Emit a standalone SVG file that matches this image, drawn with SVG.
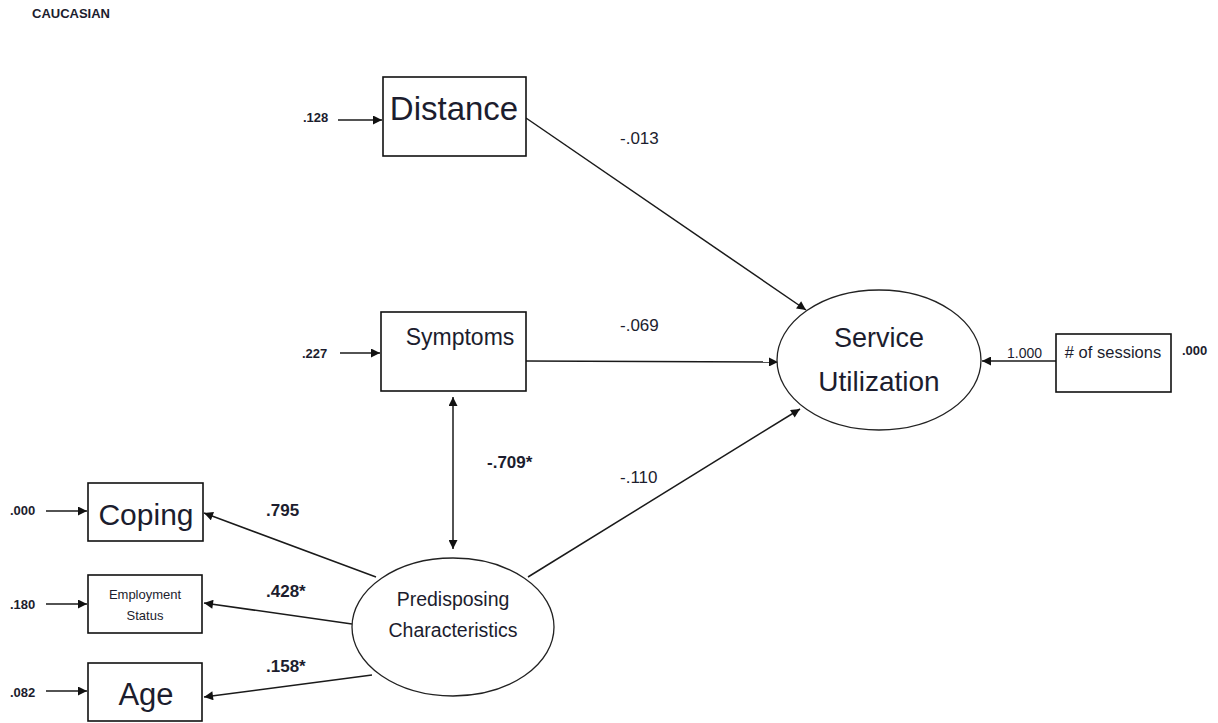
<svg xmlns="http://www.w3.org/2000/svg" width="1218" height="723" viewBox="0 0 1218 723">
<style>
  text { font-family: "Liberation Sans", Arial, sans-serif; fill: #1c1d2e; }
  .box { fill: #ffffff; stroke: #111111; stroke-width: 1.6; }
  .ell { fill: #ffffff; stroke: #222222; stroke-width: 1.3; }
  .edge { fill: none; stroke: #1a1a1a; stroke-width: 1.5; }
  .err { fill: none; stroke: #1a1a1a; stroke-width: 1.5; marker-end: url(#arr); }
  .num { font-size: 13px; font-weight: bold; }
  .coef { font-size: 17px; }
  .bold { font-size: 17px; font-weight: bold; }
</style>
<defs>
  <marker id="arr" viewBox="0 0 10 10" refX="10" refY="5" markerWidth="10" markerHeight="9" markerUnits="userSpaceOnUse" orient="auto-start-reverse">
    <path d="M0,0 L10,5 L0,10 z" fill="#111111"/>
  </marker>
</defs>
<rect width="1218" height="723" fill="#ffffff"/>

<text x="32" y="18" font-size="13" font-weight="bold">CAUCASIAN</text>

<g id="connectors">
  <path id="e_dist_su" class="edge" d="M526,118 L806,310" marker-end="url(#arr)"/>
  <path id="e_sym_su" class="edge" d="M526,361 L778,362" marker-end="url(#arr)"/>
  <path id="e_pre_su" class="edge" d="M528,577 L800,409" marker-end="url(#arr)"/>
  <path id="e_sess_su" class="edge" d="M1056,361 L982,361" marker-end="url(#arr)"/>
  <path id="e_pre_cop" class="edge" d="M376,577 L204,513" marker-end="url(#arr)"/>
  <path id="e_pre_emp" class="edge" d="M352,624 L204,603" marker-end="url(#arr)"/>
  <path id="e_pre_age" class="edge" d="M372,675 L204,697" marker-end="url(#arr)"/>
  <path id="e_sym_pre" class="edge" d="M453,397 L453,549" marker-start="url(#arr)" marker-end="url(#arr)"/>
  <path id="err_dist" class="err" d="M338,120 L382,120"/>
  <path id="err_sym" class="err" d="M340,353 L380,353"/>
  <path id="err_cop" class="err" d="M46,511 L87,511"/>
  <path id="err_emp" class="err" d="M46,604 L87,604"/>
  <path id="err_age" class="err" d="M46,691 L87,691"/>
  <text class="coef" x="620" y="144">-.013</text>
  <text class="coef" x="620" y="331">-.069</text>
  <text class="coef" x="620" y="483">-.110</text>
  <text class="bold" x="487" y="468">-.709*</text>
  <text class="bold" x="266" y="516">.795</text>
  <text class="bold" x="266" y="597">.428*</text>
  <text class="bold" x="266" y="672">.158*</text>
  <text x="1007" y="358" font-size="14">1.000</text>
  <text class="num" x="303" y="122">.128</text>
  <text class="num" x="302" y="358">.227</text>
  <text class="num" x="10" y="515">.000</text>
  <text class="num" x="10" y="609">.180</text>
  <text class="num" x="10" y="697">.082</text>
  <text class="num" x="1182" y="355">.000</text>
</g>

<g id="distance">
  <rect class="box" x="383" y="77" width="143" height="79"/>
  <text x="454" y="120" font-size="33" text-anchor="middle">Distance</text>
</g>

<g id="symptoms">
  <rect class="box" x="381" y="312" width="145" height="79"/>
  <text x="460" y="345" font-size="23" text-anchor="middle">Symptoms</text>
</g>

<g id="service_utilization">
  <ellipse class="ell" cx="879" cy="360" rx="102" ry="70"/>
  <text x="879" y="347" font-size="27" text-anchor="middle">Service</text>
  <text x="879" y="391" font-size="28" text-anchor="middle">Utilization</text>
</g>

<g id="sessions">
  <rect class="box" x="1056" y="334" width="115" height="58"/>
  <text x="1113" y="358" font-size="16.5" text-anchor="middle"># of sessions</text>
</g>

<g id="coping">
  <rect class="box" x="88" y="483" width="115" height="58"/>
  <text x="146" y="525" font-size="30" text-anchor="middle">Coping</text>
</g>

<g id="employment">
  <rect class="box" x="88" y="575" width="114" height="58"/>
  <text x="145" y="599" font-size="13" text-anchor="middle">Employment</text>
  <text x="145" y="620" font-size="13" text-anchor="middle">Status</text>
</g>

<g id="age">
  <rect class="box" x="88" y="663" width="114" height="58"/>
  <text x="146" y="705" font-size="31" text-anchor="middle">Age</text>
</g>

<g id="predisposing">
  <ellipse class="ell" cx="453" cy="627" rx="101" ry="69"/>
  <text x="453" y="606" font-size="19.5" text-anchor="middle">Predisposing</text>
  <text x="453" y="637" font-size="19.5" text-anchor="middle">Characteristics</text>
</g>
</svg>
